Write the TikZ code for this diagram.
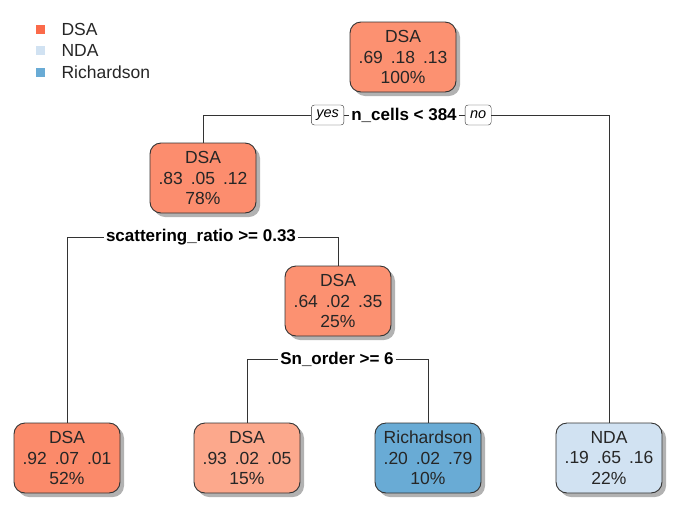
\documentclass[tikz,border=0pt]{standalone}
\usepackage{fontspec}
\setmainfont{Liberation Sans}
\usetikzlibrary{shadows,positioning}
\definecolor{dsaA}{HTML}{FC8D6E}
\definecolor{dsaB}{HTML}{FB8A6A}
\definecolor{dsaC}{HTML}{FCA88C}
\definecolor{dsaD}{HTML}{FC9171}
\definecolor{rich}{HTML}{69ABD5}
\definecolor{nda}{HTML}{D1E2F2}
\definecolor{legdsa}{HTML}{FB6A4A}
\definecolor{edge}{HTML}{333333}
\tikzset{
  treenode/.style={draw=edge,line width=0.9pt,rounded corners=11pt,
    minimum width=106pt,minimum height=70pt,align=center,inner xsep=3pt,
    font=\fontsize{17.5}{20.5}\selectfont,text=black!85,
    drop shadow={shadow xshift=4pt,shadow yshift=-4pt,fill=black!30,opacity=1}},
  splitlab/.style={fill=white,inner xsep=2pt,inner ysep=1pt,
    font=\fontsize{17}{19}\selectfont\bfseries},
  yesno/.style={draw=edge,rounded corners=3pt,fill=white,inner xsep=5pt,
    inner ysep=2pt,minimum height=20pt,font=\fontsize{14.5}{16}\selectfont\itshape},
  legsq/.style={minimum size=9pt,inner sep=0pt},
  legtxt/.style={anchor=west,font=\fontsize{17.5}{19}\selectfont,text=black!85},
  branch/.style={edge,line width=0.8pt}
}
\newcommand{\gap}{\hspace{0.45em}}
\begin{document}
\begin{tikzpicture}[x=1pt,y=-1pt]
  \useasboundingbox (0,0) rectangle (681,515);
  % legend
  \node[legsq,fill=legdsa] (kdsa) at (40,29) {};
  \node[legsq,fill=nda] (knda) at (40,50) {};
  \node[legsq,fill=rich] (krich) at (40,72) {};
  \node[legtxt] at (58,29) {DSA};
  \node[legtxt] at (58,50) {NDA};
  \node[legtxt] at (58,72) {Richardson};

  % nodes
  \node[treenode,fill=dsaD] (root) at (403,57) {DSA\\.69\gap.18\gap.13\\100\%};
  \node[treenode,fill=dsaA] (n78) at (203,178) {DSA\\.83\gap.05\gap.12\\78\%};
  \node[treenode,fill=dsaD] (n25) at (338,301) {DSA\\.64\gap.02\gap.35\\25\%};
  \node[treenode,fill=dsaB] (n52) at (67,458) {DSA\\.92\gap.07\gap.01\\52\%};
  \node[treenode,fill=dsaC] (n15) at (247,458) {DSA\\.93\gap.02\gap.05\\15\%};
  \node[treenode,fill=rich] (n10) at (428,458) {Richardson\\.20\gap.02\gap.79\\10\%};
  \node[treenode,fill=nda] (n22) at (609,458) {NDA\\.19\gap.65\gap.16\\22\%};

  % splits
  \node[splitlab] (s1) at (404,115) {n\_cells < 384};
  \node[yesno,left=5pt of s1] (yes) {yes};
  \node[yesno,right=6pt of s1] (no) {no};
  \node[splitlab] (s2) at (201,237) {scattering\_ratio >= 0.33};
  \node[splitlab] (s3) at (337,359) {Sn\_order >= 6};

  % branches
  \draw[branch] (n78.north) |- (yes.west);
  \draw[branch] (yes.east) -- (s1.west);
  \draw[branch] (s1.east) -- (no.west);
  \draw[branch] (no.east) -| (n22.north);
  \draw[branch] (n52.north) |- (s2.west);
  \draw[branch] (s2.east) -| (n25.north);
  \draw[branch] (n15.north) |- (s3.west);
  \draw[branch] (s3.east) -| (n10.north);
\end{tikzpicture}
\end{document}
